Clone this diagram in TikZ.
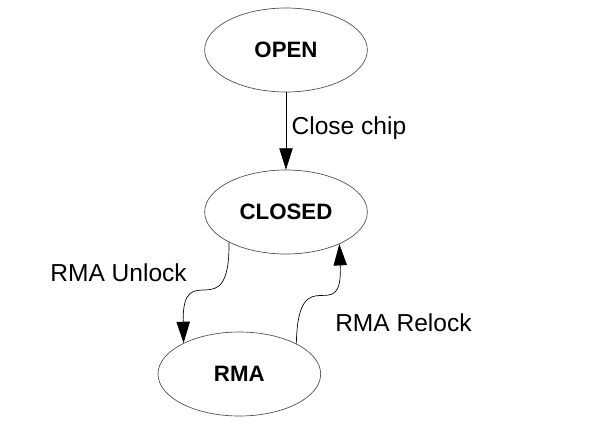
\documentclass[tikz,border=0pt]{standalone}
\usepackage{fontspec}
\setmainfont{Liberation Sans}
\usetikzlibrary{shapes.geometric, arrows.meta}

\begin{document}
\begin{tikzpicture}[x=0.75pt, y=-0.75pt, node distance=121.5pt]
        \tikzstyle{state} = [ellipse, minimum width=122pt, minimum height=63pt, text centered, draw=black!70, line width=0.5pt, font=\bfseries\fontsize{16.7}{20}\selectfont]
        \tikzstyle{label} = [inner sep=0pt, font=\fontsize{18.4}{22}\selectfont]
        \tikzstyle{arrow} = [line width=0.5pt, -{Triangle[length=16pt, width=10pt]}]
        \useasboundingbox (0,0) rectangle (600,425);

        \node (open) [state] at (286,50) {OPEN};
        \node (closed) [state, below of=open] {CLOSED};
        \node (rma) [state, below of=closed, xshift=-35pt] {RMA};

        \draw [arrow] (open) -- node[label, anchor=west, xshift=4pt, yshift=2pt] {Close chip} (closed);
        \draw [arrow] (closed.208) .. controls (230,330) and (182,255) .. (rma.151);
        \draw [arrow] (rma.28) .. controls (298,255) and (343,330) .. (closed.329);

        \node (unlock) [label, anchor=east] at (187,273) {RMA Unlock};
        \node (relock) [label, anchor=west] at (335,323) {RMA Relock};
\end{tikzpicture}
\end{document}
